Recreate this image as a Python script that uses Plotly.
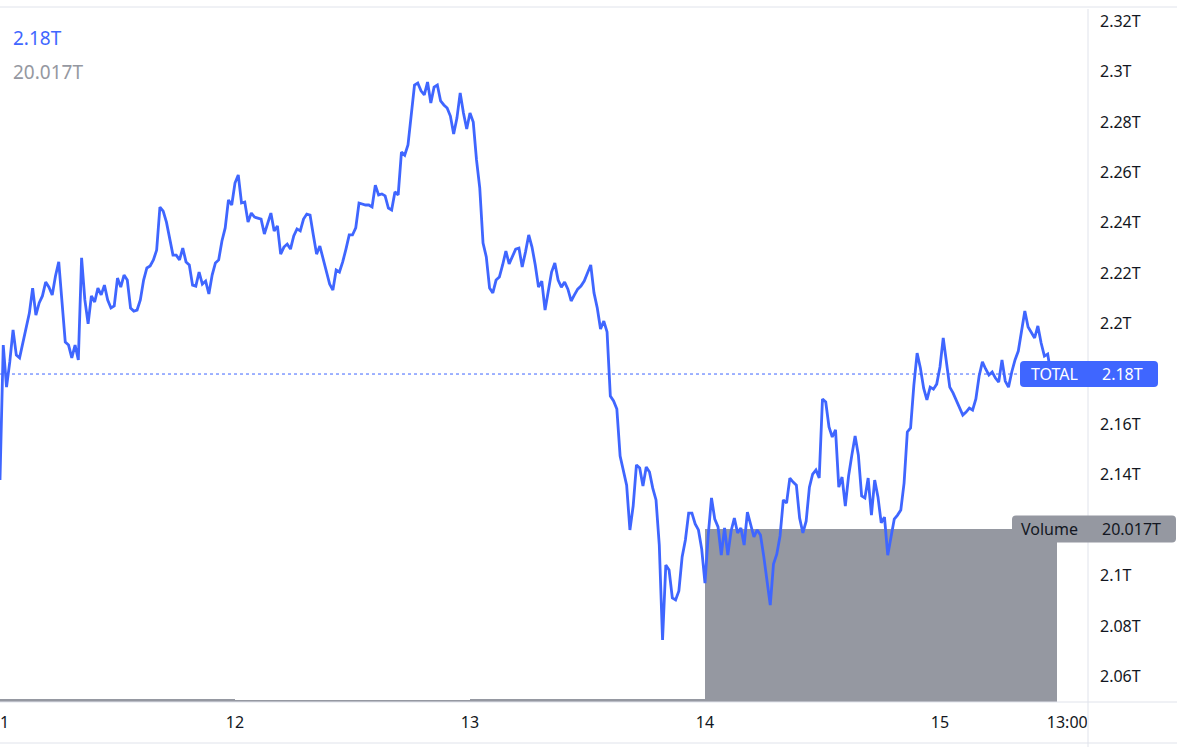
import plotly.graph_objects as go
import pandas as pd

# ---------------- data ----------------
series_start = "2021-12-11 00:00"
series_freq = "20min"
total_T = [
    2.1379, 2.1915, 2.1748, 2.1848, 2.1975, 2.1875, 2.1864, 2.1927, 2.1983, 2.2042,
    2.2141, 2.2034, 2.2082, 2.2110, 2.2165, 2.2145, 2.2114, 2.2189, 2.2245, 2.2066,
    2.1927, 2.1915, 2.1864, 2.1915, 2.1856, 2.2261, 2.2094, 2.1999, 2.2110, 2.2086,
    2.2141, 2.2114, 2.2153, 2.2094, 2.2062, 2.2070, 2.2181, 2.2145, 2.2193, 2.2173,
    2.2062, 2.2050, 2.2054, 2.2094, 2.2173, 2.2221, 2.2229, 2.2253, 2.2292, 2.2463,
    2.2447, 2.2403, 2.2340, 2.2272, 2.2272, 2.2253, 2.2300, 2.2245, 2.2233, 2.2153,
    2.2149, 2.2205, 2.2157, 2.2169, 2.2118, 2.2193, 2.2241, 2.2253, 2.2328, 2.2380,
    2.2491, 2.2471, 2.2558, 2.2590, 2.2479, 2.2483, 2.2403, 2.2439, 2.2423, 2.2419,
    2.2415, 2.2356, 2.2396, 2.2439, 2.2368, 2.2388, 2.2276, 2.2304, 2.2316, 2.2296,
    2.2348, 2.2376, 2.2368, 2.2415, 2.2435, 2.2431, 2.2352, 2.2276, 2.2308, 2.2257,
    2.2205, 2.2157, 2.2133, 2.2213, 2.2205, 2.2245, 2.2296, 2.2352, 2.2352, 2.2380,
    2.2479, 2.2475, 2.2471, 2.2471, 2.2463, 2.2550, 2.2511, 2.2515, 2.2507, 2.2459,
    2.2451, 2.2523, 2.2511, 2.2681, 2.2669, 2.2709, 2.2820, 2.2947, 2.2955, 2.2924,
    2.2908, 2.2959, 2.2876, 2.2939, 2.2947, 2.2884, 2.2868, 2.2856, 2.2824, 2.2753,
    2.2816, 2.2916, 2.2836, 2.2773, 2.2836, 2.2800, 2.2650, 2.2538, 2.2320, 2.2265,
    2.2141, 2.2122, 2.2173, 2.2185, 2.2233, 2.2288, 2.2237, 2.2265, 2.2296, 2.2300,
    2.2225, 2.2284, 2.2352, 2.2304, 2.2233, 2.2145, 2.2169, 2.2054, 2.2133, 2.2205,
    2.2241, 2.2173, 2.2145, 2.2165, 2.2137, 2.2090, 2.2114, 2.2137, 2.2149, 2.2169,
    2.2201, 2.2233, 2.2122, 2.2062, 2.1979, 2.2010, 2.1967, 2.1713, 2.1693, 2.1661,
    2.1474, 2.1419, 2.1359, 2.1181, 2.1276, 2.1439, 2.1427, 2.1355, 2.1431, 2.1411,
    2.1347, 2.1300, 2.1121, 2.0744, 2.1042, 2.1022, 2.0911, 2.0903, 2.0939, 2.1074,
    2.1141, 2.1248, 2.1248, 2.1205, 2.1181, 2.1105, 2.0970, 2.1161, 2.1308, 2.1224,
    2.1193, 2.1081, 2.1189, 2.1081, 2.1177, 2.1228, 2.1169, 2.1189, 2.1121, 2.1252,
    2.1201, 2.1153, 2.1181, 2.1161, 2.1077, 2.0970, 2.0883, 2.1046, 2.1085, 2.1157,
    2.1300, 2.1288, 2.1387, 2.1371, 2.1359, 2.1228, 2.1169, 2.1216, 2.1351, 2.1403,
    2.1419, 2.1387, 2.1701, 2.1689, 2.1590, 2.1550, 2.1578, 2.1351, 2.1391, 2.1276,
    2.1395, 2.1478, 2.1554, 2.1478, 2.1316, 2.1308, 2.1387, 2.1240, 2.1379, 2.1312,
    2.1209, 2.1232, 2.1081, 2.1153, 2.1224, 2.1240, 2.1260, 2.1367, 2.1570, 2.1586,
    2.1756, 2.1883, 2.1824, 2.1744, 2.1697, 2.1748, 2.1740, 2.1760, 2.1828, 2.1943,
    2.1836, 2.1748, 2.1725, 2.1693, 2.1665, 2.1637, 2.1649, 2.1665, 2.1657, 2.1701,
    2.1792, 2.1848, 2.1820, 2.1796, 2.1808, 2.1784, 2.1768, 2.1856, 2.1772, 2.1748,
    2.1808, 2.1856, 2.1891, 2.1963, 2.2050, 2.1987, 2.1967, 2.1943, 2.1991, 2.1923,
    2.1871, 2.1879, 2.1800,
]

volume_days = ["2021-12-11", "2021-12-12", "2021-12-13", "2021-12-14", "2021-12-15"]
volume_hours = [24, 24, 24, 24, 12]
volume_T = [0.35, 0.22, 0.35, 20.017, 20.017]

price_ticks = [2.06, 2.08, 2.10, 2.12, 2.14, 2.16, 2.18, 2.20, 2.22, 2.24, 2.26, 2.28, 2.30, 2.32]
# 2.12T and 2.18T sit under the Volume / TOTAL labels and are not visible
price_ticktext = ["2.06T", "2.08T", "2.1T", "", "2.14T", "2.16T", "", "2.2T",
                  "2.22T", "2.24T", "2.26T", "2.28T", "2.3T", "2.32T"]
date_ticks = ["2021-12-11", "2021-12-12", "2021-12-13", "2021-12-14", "2021-12-15", "2021-12-15 13:00"]
date_ticktext = ["11", "12", "13", "14", "15", "13:00"]

series_name = "TOTAL"
volume_name = "Volume"

# ---------------- figure ----------------
W, H = 1177, 747
ML, MR, MT, MB = 0, 90, 7, 45
PW, PH = W - ML - MR, H - MT - MB

BLUE = "#3f66ff"
GREY = "#9598a1"
TEXT = "#131722"
BORDER = "#e0e3eb"
FONT = "Noto Sans"

times = pd.date_range(series_start, periods=len(total_T), freq=series_freq)
last_val = total_T[-1]
last_vol = volume_T[-1]

def px_x(p):
    return (p - ML) / PW

def px_y(p):
    return (H - MB - p) / PH

fig = go.Figure()
fig.add_trace(go.Bar(
    x=volume_days, y=volume_T,
    width=[h * 3600 * 1000 for h in volume_hours], offset=0,
    marker=dict(color=GREY, line=dict(width=0)),
    yaxis="y", hoverinfo="skip",
))
fig.add_trace(go.Scatter(
    x=times, y=total_T, mode="lines",
    line=dict(color=BLUE, width=2.8),
    yaxis="y2", hoverinfo="skip",
))

def rounded(w, h, r):
    hh = h / 2
    return (f"M {r},{hh} L {w - r},{hh} Q {w},{hh} {w},{hh - r} L {w},{-hh + r} "
            f"Q {w},{-hh} {w - r},{-hh} L {r},{-hh} Q 0,{-hh} 0,{-hh + r} "
            f"L 0,{hh - r} Q 0,{hh} {r},{hh} Z")

full_w = W / PW
shapes = [
    dict(type="line", xref="paper", yref="paper", x0=0, x1=full_w, y0=1, y1=1,
         line=dict(color=BORDER, width=1)),
    dict(type="line", xref="paper", yref="paper", x0=0, x1=full_w, y0=0, y1=0,
         line=dict(color=BORDER, width=1)),
    dict(type="line", xref="paper", yref="paper", x0=0, x1=full_w, y0=px_y(743), y1=px_y(743),
         line=dict(color=BORDER, width=1)),
    dict(type="rect", xref="paper", yref="paper", x0=px_x(1088), x1=full_w,
         y0=px_y(741), y1=px_y(704), fillcolor="white", line=dict(width=0), layer="above"),
    dict(type="line", xref="paper", yref="paper", x0=px_x(1088), x1=px_x(1088),
         y0=px_y(747), y1=px_y(9), line=dict(color=BORDER, width=1), layer="above"),
    dict(type="line", xref="paper", yref="y2", x0=0, x1=px_x(1020), y0=last_val, y1=last_val,
         line=dict(color=BLUE, width=1, dash="dot")),
    dict(type="path", xref="paper", yref="y2", xsizemode="pixel", ysizemode="pixel",
         xanchor=px_x(1020), yanchor=last_val, path=rounded(138, 26, 4),
         fillcolor=BLUE, line=dict(width=0), layer="above"),
    dict(type="path", xref="paper", yref="y", xsizemode="pixel", ysizemode="pixel",
         xanchor=px_x(1012), yanchor=last_vol, path=rounded(164, 27, 4),
         fillcolor=GREY, line=dict(width=0), layer="above"),
]

annotations = [
    dict(text=f"{last_val:.2f}T", xref="paper", yref="paper", x=px_x(11), y=px_y(38),
         xanchor="left", yanchor="middle", showarrow=False,
         font=dict(family=FONT, size=19, color=BLUE)),
    dict(text=f"{last_vol:.3f}T", xref="paper", yref="paper", x=px_x(11), y=px_y(72),
         xanchor="left", yanchor="middle", showarrow=False,
         font=dict(family=FONT, size=19, color=GREY)),
    dict(text=series_name, xref="paper", yref="y2", x=px_x(1029), y=last_val,
         xanchor="left", yanchor="middle", showarrow=False,
         font=dict(family=FONT, size=16, color="white")),
    dict(text=f"{last_val:.2f}T", xref="paper", yref="y2", x=px_x(1100), y=last_val,
         xanchor="left", yanchor="middle", showarrow=False,
         font=dict(family=FONT, size=16, color="white")),
    dict(text=volume_name, xref="paper", yref="y", x=px_x(1019), y=last_vol,
         xanchor="left", yanchor="middle", showarrow=False,
         font=dict(family=FONT, size=16, color=TEXT)),
    dict(text=f"{last_vol:.3f}T", xref="paper", yref="y", x=px_x(1100), y=last_vol,
         xanchor="left", yanchor="middle", showarrow=False,
         font=dict(family=FONT, size=16, color=TEXT)),
]

vol_max = last_vol * PH / 173.0

fig.update_layout(
    width=W, height=H,
    margin=dict(l=ML, r=MR, t=MT, b=MB, pad=0, autoexpand=False),
    paper_bgcolor="white", plot_bgcolor="white",
    showlegend=False, bargap=0,
    font=dict(family=FONT, color=TEXT),
    xaxis=dict(
        type="date", range=["2021-12-11 00:00", "2021-12-15 15:01"],
        tickmode="array", tickvals=date_ticks, ticktext=date_ticktext,
        showgrid=False, zeroline=False, showline=False, ticks="",
        tickfont=dict(family=FONT, size=16, color=TEXT), ticklabelstandoff=9,
        ticklabeloverflow="allow", automargin=False,
        fixedrange=True,
    ),
    yaxis=dict(range=[0, vol_max], visible=False, fixedrange=True, automargin=False),
    yaxis2=dict(
        overlaying="y", side="right", anchor="x",
        range=[2.0498, 2.3257],
        tickmode="array", tickvals=price_ticks, ticktext=price_ticktext,
        showgrid=False, zeroline=False, showline=False, ticks="",
        tickfont=dict(family=FONT, size=16, color=TEXT), ticklabelstandoff=12,
        automargin=False, fixedrange=True,
    ),
    shapes=shapes,
    annotations=annotations,
)

fig.write_html(
    "out.html",
    config={"displayModeBar": False},
    post_script="document.body.style.margin='0px';document.body.style.overflow='hidden';",
)
